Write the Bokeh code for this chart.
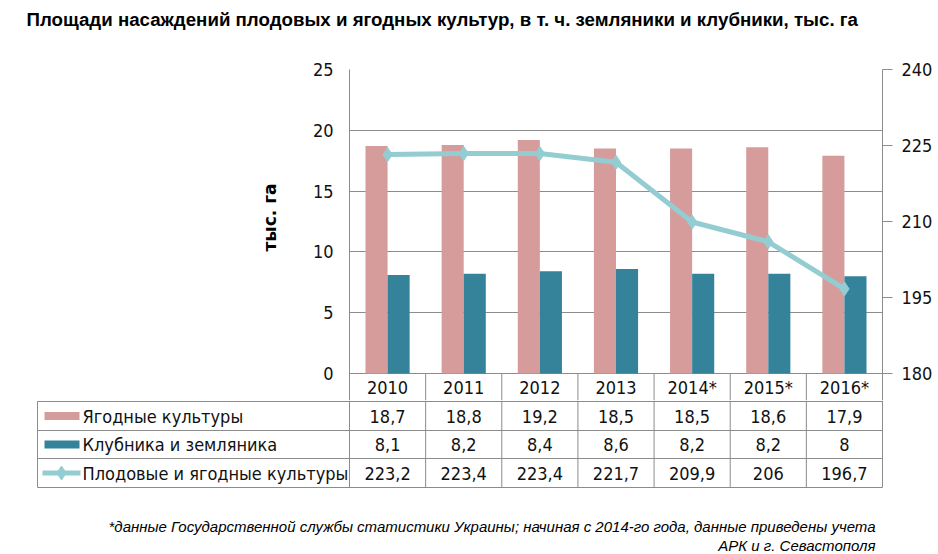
import math
from bokeh.plotting import figure
from bokeh.layouts import column, row
from bokeh.models import Range1d, LinearAxis, FixedTicker, ColumnDataSource
from bokeh.core.properties import value
from bokeh.embed import file_html
from bokeh.resources import INLINE

# ---------------- data ----------------
years = ["2010", "2011", "2012", "2013", "2014*", "2015*", "2016*"]
berries = [18.7, 18.8, 19.2, 18.5, 18.5, 18.6, 17.9]              # Ягодные культуры
strawberries = [8.1, 8.2, 8.4, 8.6, 8.2, 8.2, 8.0]                # Клубника и земляника
fruit_berries = [223.2, 223.4, 223.4, 221.7, 209.9, 206.0, 196.7]  # Плодовые и ягодные культуры
series_names = ["Ягодные культуры", "Клубника и земляника", "Плодовые и ягодные культуры"]
left_ticks = [0, 5, 10, 15, 20, 25]
right_ticks = [180, 195, 210, 225, 240]
title_text = "Площади насаждений плодовых и ягодных культур, в т. ч. земляники и клубники, тыс. га"
y_label = "тыс. га"
footnote_lines = ["*данные Государственной службы статистики Украины; начиная с 2014-го года, данные приведены учета",
                  "АРК и г. Севастополя"]

# ---------------- layout (page pixels) & styles ----------------
W, H = 938, 554
TITLE_H = 40          # height of the title strip
YL_W = 300            # width of the strip holding the y-axis title
SPLIT = 400           # page y where the chart figure ends and the table figure starts
F_L, F_R, F_T = 349, 882, 69
ZERO_PX = 373
ROW_LINES = [373, 401, 430, 458, 487]
TABLE_L = 37
PINK = "#d69c9c"
TEAL = "#35839b"
LINE_C = "#93cdd2"
GRID_C = "#8c8c8c"
TXT_C = "#111111"
TICK_FONT = "DejaVu Sans Condensed, Noto Sans"
BAR_W = 0.29

n = len(years)
L0, L1 = left_ticks[0], left_ticks[-1]
R0, R1 = right_ticks[0], right_ticks[-1]
ppx = (F_R - F_L) / n
ppy = (ZERO_PX - F_T) / (L1 - L0)
r_scale = (R1 - R0) / (L1 - L0)


def dx(px):          # page x -> category coordinate
    return -0.5 + (px - F_L) / ppx


def dy(py):          # page y -> left-axis value
    return (ZERO_PX - py) / ppy


def blank(width, height, x_range, y_range):
    f = figure(width=width, height=height, x_range=x_range, y_range=y_range,
               output_backend="svg", toolbar_location=None,
               x_axis_location=None, y_axis_location=None, min_border=0)
    f.grid.visible = False
    f.outline_line_color = None
    f.background_fill_color = "white"
    f.border_fill_color = "white"
    return f


# ---------------- title strip ----------------
pt = blank(W, TITLE_H, Range1d(0, W), Range1d(-TITLE_H, 0))
pt.text(x=[26], y=[-19], text=[title_text], text_baseline="alphabetic",
        text_font=value("Liberation Sans"), text_font_style="bold",
        text_font_size=value("18.7px"), text_color="black")

# ---------------- y-axis title strip ----------------
py_ = blank(YL_W, SPLIT - TITLE_H, Range1d(0, YL_W), Range1d(-SPLIT, -TITLE_H))
py_.text(x=[269], y=[-201], text=[y_label], angle=math.pi / 2, text_align="center",
         text_baseline="middle", text_font=value("DejaVu Sans"), text_font_style="bold",
         text_font_size=value("17px"), text_color="black")

# ---------------- main chart ----------------
y_start = dy(SPLIT)
p = figure(width=W - YL_W, height=SPLIT - TITLE_H, x_range=Range1d(-0.5, n - 0.5),
           y_range=Range1d(y_start, L1), output_backend="svg", toolbar_location=None,
           x_axis_location=None, min_border_left=F_L - YL_W, min_border_right=W - F_R,
           min_border_top=F_T - TITLE_H, min_border_bottom=0)
p.outline_line_color = None
p.background_fill_color = "white"
p.border_fill_color = "white"
p.xgrid.visible = False
p.ygrid.ticker = FixedTicker(ticks=left_ticks)
p.ygrid.grid_line_color = GRID_C

ya = p.yaxis[0]
ya.ticker = FixedTicker(ticks=left_ticks)
ya.major_tick_out = 0
ya.major_tick_in = 0
ya.minor_tick_out = 0
ya.minor_tick_in = 0
ya.axis_line_color = GRID_C
ya.major_label_standoff = 16
ya.major_label_text_font = TICK_FONT
ya.major_label_text_font_size = "18px"
ya.major_label_text_color = TXT_C

p.extra_y_ranges = {"right": Range1d(R0 + y_start * r_scale, R1)}
ra = LinearAxis(y_range_name="right", ticker=FixedTicker(ticks=right_ticks))
ra.major_tick_out = 10
ra.major_tick_in = 0
ra.minor_tick_out = 0
ra.minor_tick_in = 0
ra.axis_line_color = GRID_C
ra.major_tick_line_color = GRID_C
ra.major_label_standoff = 9
ra.major_label_text_font = TICK_FONT
ra.major_label_text_font_size = "18px"
ra.major_label_text_color = TXT_C
p.add_layout(ra, "right")

idx = list(range(n))
src = ColumnDataSource(dict(
    xb=[i - BAR_W / 2 for i in idx], xs=[i + BAR_W / 2 for i in idx], x=idx,
    berries=berries, straw=strawberries, fruit=fruit_berries))
p.vbar(x="xb", top="berries", bottom=0, width=BAR_W, source=src, fill_color=PINK, line_color=None)
p.vbar(x="xs", top="straw", bottom=0, width=BAR_W, source=src, fill_color=TEAL, line_color=None)
p.line(x="x", y="fruit", source=src, y_range_name="right", line_color=LINE_C, line_width=5)
p.scatter(x="x", y="fruit", source=src, y_range_name="right", marker="diamond", size=14,
          fill_color=LINE_C, line_color=LINE_C)

# header row of the data table (inside the chart frame)
p.segment(x0=[i + 0.5 for i in idx[:-1]], x1=[i + 0.5 for i in idx[:-1]],
          y0=[0] * (n - 1), y1=[y_start] * (n - 1), line_color=GRID_C, line_width=1)
hdr_y = (ROW_LINES[0] + ROW_LINES[1]) / 2
p.text(x=idx, y=[dy(hdr_y)] * n, text=years, text_align="center", text_baseline="middle",
       text_font=value(TICK_FONT), text_font_size=value("18px"), text_color=TXT_C)

# ---------------- table body + footnote ----------------
TB_H = H - SPLIT
pb = blank(W, TB_H, Range1d(dx(0), dx(W)), Range1d(-H, -SPLIT))

hx0 = [dx(TABLE_L)] * 4
hx1 = [n - 0.5] * 4
hy = [-r for r in ROW_LINES[1:]]
pb.segment(x0=hx0, x1=hx1, y0=hy, y1=hy, line_color=GRID_C, line_width=1)
vx = [dx(TABLE_L)] + [i - 0.5 for i in range(n + 1)]
vy0 = [-ROW_LINES[1]] + [-SPLIT] * (n + 1)
vy1 = [-ROW_LINES[-1]] * (n + 2)
pb.segment(x0=vx, x1=vx, y0=vy0, y1=vy1, line_color=GRID_C, line_width=1)

row_c = [(ROW_LINES[k] + ROW_LINES[k + 1]) / 2 for k in range(1, len(ROW_LINES) - 1)]


def fmt(v):
    return f"{v:g}".replace(".", ",")


cx, cy, ct = [], [], []
for k, ser in enumerate([berries, strawberries, fruit_berries]):
    for i in idx:
        cx.append(i); cy.append(-row_c[k]); ct.append(fmt(ser[i]))
pb.text(x=cx, y=cy, text=ct, text_align="center", text_baseline="middle",
        text_font=value(TICK_FONT), text_font_size=value("18px"), text_color=TXT_C)
pb.text(x=[dx(82)] * 3, y=[-c for c in row_c], text=series_names, text_align="left",
        text_baseline="middle", text_font=value(TICK_FONT), text_font_size=value("18px"),
        text_color=TXT_C)

# legend keys
key_l, key_r = dx(44), dx(79)
pb.quad(left=[key_l], right=[key_r], top=[-(row_c[0] - 4)], bottom=[-(row_c[0] + 4)],
        fill_color=PINK, line_color=None)
pb.quad(left=[key_l], right=[key_r], top=[-(row_c[1] - 4)], bottom=[-(row_c[1] + 4)],
        fill_color=TEAL, line_color=None)
pb.line(x=[dx(42), dx(80)], y=[-row_c[2]] * 2, line_color=LINE_C, line_width=5)
pb.scatter(x=[dx(61)], y=[-row_c[2]], marker="diamond", size=14, fill_color=LINE_C,
           line_color=LINE_C)

pb.text(x=[dx(875)] * 2, y=[-526, -545], text=footnote_lines, text_align="right",
        text_baseline="alphabetic", text_font=value("Liberation Sans"),
        text_font_style="italic", text_font_size=value("15px"), text_color="black")

layout = column(pt, row(py_, p), pb)
open("out.html", "w").write(file_html(layout, INLINE))
